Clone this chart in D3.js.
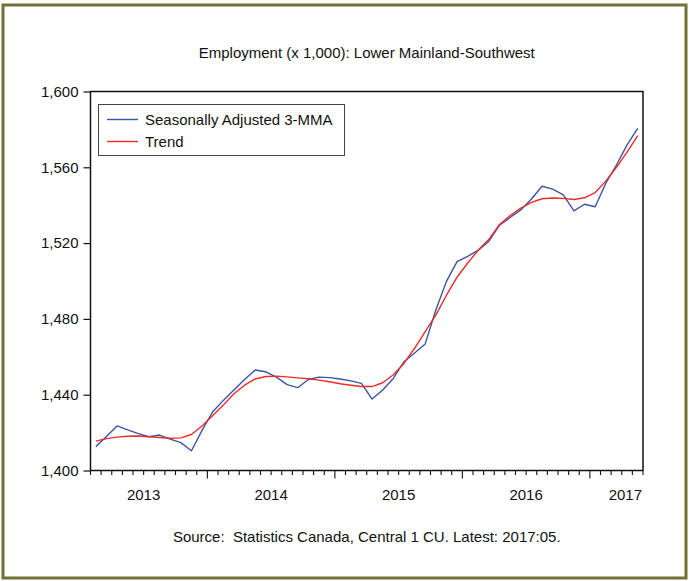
<!DOCTYPE html>
<meta charset="utf-8">
<script src="https://d3js.org/d3.v7.min.js"></script>
<style>
  body { margin: 0; background: #fff; }
  text { font-family: "Liberation Sans", Arial, sans-serif; fill: #111; }
</style>
<div id="chart"></div>
<script>

    // Monthly observations, 2013:02 to 2017:05 (thousands of persons)
    const months = d3.utcMonth.range(new Date(Date.UTC(2013, 1, 1)), new Date(Date.UTC(2017, 5, 1)));

    const seasAdj = [
        1412.6, 1418.0, 1423.5, 1421.4, 1419.5, 1417.8, 1418.7, 1416.6, 1414.7, 1410.4,
        1421.2, 1431.0, 1437.0, 1442.5, 1448.0, 1453.0, 1452.1, 1449.3, 1445.3, 1443.7,
        1448.0, 1449.3, 1449.0, 1448.3, 1447.3, 1446.0, 1437.7, 1442.5, 1448.6, 1457.4,
        1462.0, 1466.8, 1484.7, 1499.8, 1510.2, 1513.0, 1516.3, 1521.0, 1529.5, 1533.5,
        1537.5, 1543.3, 1550.0, 1548.5, 1545.4, 1537.0, 1540.5, 1539.2, 1551.6, 1561.2,
        1571.8, 1580.6
    ];

    const trend = [
        1415.5, 1416.8, 1417.6, 1418.1, 1418.2, 1417.8, 1417.4, 1417.0, 1417.2, 1419.0,
        1423.5, 1429.0, 1434.5, 1440.5, 1445.0, 1448.3, 1449.6, 1449.8, 1449.4, 1448.9,
        1448.4, 1447.7, 1446.8, 1445.8, 1445.0, 1444.3, 1444.3, 1446.3, 1450.5, 1456.5,
        1464.5, 1473.3, 1482.0, 1492.5, 1502.0, 1509.5, 1516.3, 1522.0, 1529.8, 1534.5,
        1538.5, 1541.5, 1543.4, 1543.8, 1543.6, 1543.0, 1543.9, 1546.7, 1552.7, 1560.0,
        1568.0, 1576.7
    ];

    const years = [2013, 2014, 2015, 2016, 2017];
    const yTicks = [1400, 1440, 1480, 1520, 1560, 1600];

    const series = [
        { name: "Seasonally Adjusted 3-MMA", values: seasAdj, color: "#3b54a6" },
        { name: "Trend", values: trend, color: "#ee2b2b" }
    ];

    const width = 689;
    const height = 581;
    const marginTop = 91.5;
    const marginRight = 46;
    const marginBottom = 110.5;
    const marginLeft = 90.5;

    const svg = d3.select("#chart")
        .append("svg")
        .attr("width", width)
        .attr("height", height)
        .attr("viewBox", [0, 0, width, height]);

    // olive outer frame
    svg.append("rect")
        .attr("x", 3).attr("y", 5)
        .attr("width", 683).attr("height", 573)
        .attr("fill", "#fff")
        .attr("stroke", "#727032")
        .attr("stroke-width", 3);

    const x = d3.scaleLinear()
        .domain([0, months.length])
        .range([marginLeft, width - marginRight]);

    const y = d3.scaleLinear()
        .domain([1400, 1600])
        .range([height - marginBottom, marginTop]);

    // y axis
    svg.append("g")
        .attr("transform", `translate(${marginLeft},0)`)
        .call(d3.axisLeft(y).tickValues(yTicks).tickFormat(d3.format(",")).tickSize(7).tickPadding(5))
        .call(g => g.select(".domain").remove())
        .call(g => g.selectAll(".tick line").attr("stroke", "#111").attr("stroke-width", 1.2))
        .call(g => g.selectAll(".tick text")
            .attr("font-family", "Liberation Sans, Arial, sans-serif")
            .attr("font-size", 15)
            .attr("fill", "#111"));

    // x axis: monthly minor ticks, longer tick at each January
    const tickIdx = d3.range(0, months.length + 1);
    svg.append("g")
        .attr("stroke", "#111")
        .attr("stroke-width", 1.1)
        .selectAll("line")
        .data(tickIdx)
        .join("line")
        .attr("x1", d => x(d))
        .attr("x2", d => x(d))
        .attr("y1", height - marginBottom)
        .attr("y2", d => (d < months.length && months[d].getUTCMonth() === 0) ? height - marginBottom + 8 : height - marginBottom + 4.5);

    // year labels centred on each calendar year, kept inside the axis
    const firstIdx = yr => (yr - 2013) * 12 - 1;
    svg.append("g")
        .selectAll("text")
        .data(years)
        .join("text")
        .attr("font-size", 15)
        .attr("y", 500)
        .each(function (d) {
            const cx = x(firstIdx(d) + 6);
            const t = d3.select(this).text(d);
            if (cx + 17 > width - marginRight) {
                t.attr("x", width - marginRight - 1).attr("text-anchor", "end");
            } else {
                t.attr("x", cx).attr("text-anchor", "middle");
            }
        });

    // lines
    const line = d3.line()
        .x((d, i) => x(i + 0.5))
        .y(d => y(d));

    svg.append("g")
        .attr("fill", "none")
        .attr("stroke-width", 1.4)
        .attr("stroke-linejoin", "round")
        .selectAll("path")
        .data(series)
        .join("path")
        .attr("stroke", d => d.color)
        .attr("d", d => line(d.values));

    // plot frame
    svg.append("rect")
        .attr("x", marginLeft)
        .attr("y", marginTop)
        .attr("width", width - marginRight - marginLeft)
        .attr("height", height - marginBottom - marginTop)
        .attr("fill", "none")
        .attr("stroke", "#111")
        .attr("stroke-width", 1.5);

    // legend
    const legend = svg.append("g");
    legend.append("rect")
        .attr("x", 98.5).attr("y", 104.5)
        .attr("width", 246).attr("height", 51)
        .attr("fill", "#fff")
        .attr("stroke", "#444")
        .attr("stroke-width", 1);

    const item = legend.selectAll("g")
        .data(series)
        .join("g")
        .attr("transform", (d, i) => `translate(0,${119.5 + i * 22})`);

    item.append("line")
        .attr("x1", 107).attr("x2", 138)
        .attr("stroke", d => d.color)
        .attr("stroke-width", 1.4);

    item.append("text")
        .attr("x", 145)
        .attr("y", 5.5)
        .attr("font-size", 15)
        .text(d => d.name);

    // title and source
    svg.append("text")
        .attr("x", (marginLeft + width - marginRight) / 2)
        .attr("y", 58)
        .attr("text-anchor", "middle")
        .attr("font-size", 15)
        .text("Employment (x 1,000): Lower Mainland-Southwest");

    svg.append("text")
        .attr("x", (marginLeft + width - marginRight) / 2)
        .attr("y", 542)
        .attr("text-anchor", "middle")
        .attr("font-size", 15)
        .attr("xml:space", "preserve")
        .style("white-space", "pre")
        .text("Source:  Statistics Canada, Central 1 CU. Latest: 2017:05.");

</script>
